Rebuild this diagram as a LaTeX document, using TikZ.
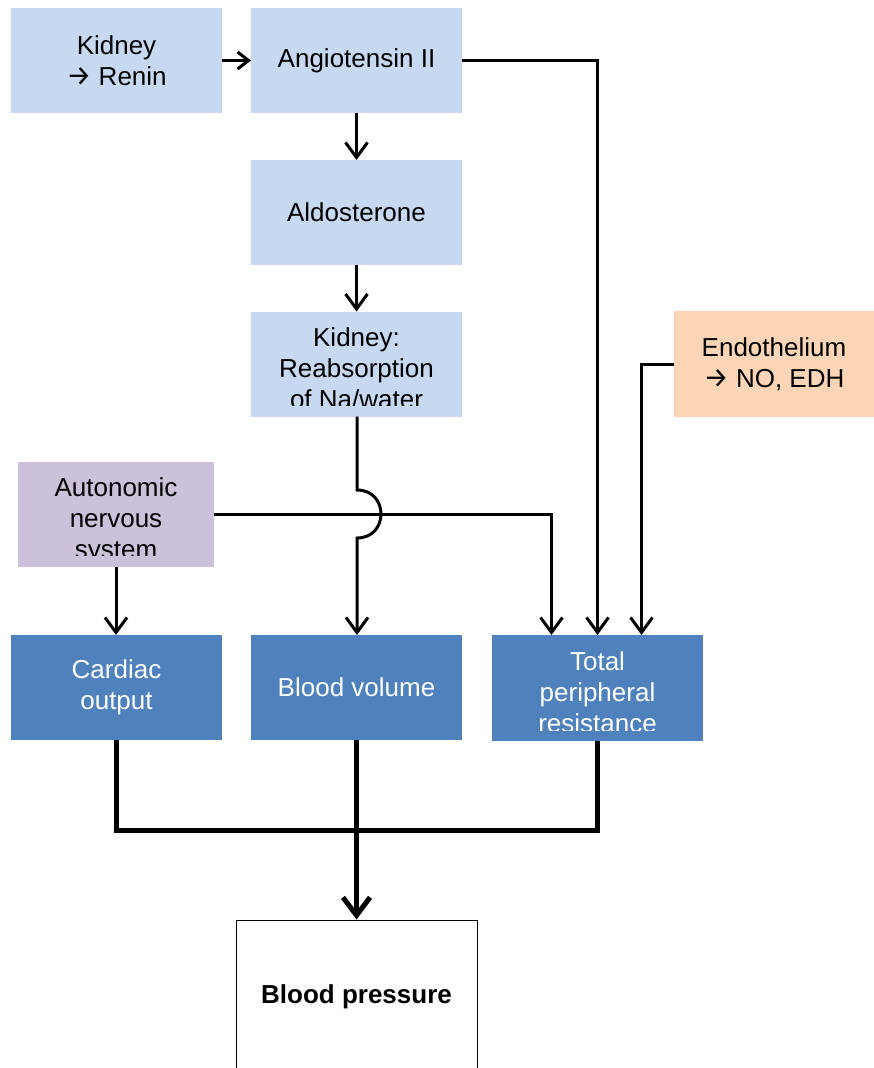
\documentclass[tikz,border=0pt]{standalone}
\usepackage{fontspec}
\setmainfont{Liberation Sans}
\newfontfamily\arrfont{Fira Sans}
\usetikzlibrary{arrows.meta}
\definecolor{lblue}{HTML}{C6D9F1}
\definecolor{dblue}{HTML}{4F81BD}
\definecolor{lpurple}{HTML}{CCC1DA}
\definecolor{lorange}{HTML}{FBD5B5}
\begin{document}
\begin{tikzpicture}[x=1pt,y=-1pt,
  box/.style={minimum width=211pt, minimum height=105pt, inner sep=0pt, outer sep=0pt, draw=none},
  lb/.style={box, fill=lblue},
  db/.style={box, fill=dblue},
  txt/.style={font=\fontsize{26}{31}\selectfont, align=center, inner sep=0pt},
  wtxt/.style={txt, text=white},
  arr/.style={line width=3pt, -{Straight Barb[length=15pt,width=22pt,line width=3pt]}},
  sarr/.style={line width=3pt, -{Straight Barb[length=11pt,width=17pt,line width=3pt]}},
  thk/.style={line width=5pt},
  thkarr/.style={line width=5pt, -{Straight Barb[length=18pt,width=27pt,line width=5pt]}}
]
\clip (0,0) rectangle (874,1068);
\fill[white] (0,0) rectangle (874,1068);

% top chain
\node[lb, txt] (kid) at (116.5,60.5) {Kidney\\{\arrfont\fontsize{28}{31}\selectfont →} Renin};
\node[lb, txt] (ang) at (356.5,60.5) {Angiotensin II};
\node[lb, txt] (ald) at (356.5,212.5) {Aldosterone};

\node[lb] (kr) at (356.5,364) {};
\begin{scope}
  \clip (kr.north west) rectangle ([yshift=11.5pt]kr.south east);
  \node[txt, yshift=-4.7pt] (krt) at (kr.center) {Kidney:\\Reabsorption\\of Na/water};
\end{scope}

\node[box, fill=lorange, minimum width=200pt, minimum height=106pt] (en) at (774,364) {};
\node[txt] (ent) at (en.center) {Endothelium\\{\arrfont\fontsize{28}{31}\selectfont →} NO, EDH};

\node[box, fill=lpurple, minimum width=196pt] (an) at (116,514.5) {};
\begin{scope}
  \clip (an.north west) rectangle ([yshift=12pt]an.south east);
  \node[txt, yshift=-6.5pt] (ant) at (an.center) {Autonomic\\nervous\\system};
\end{scope}

% middle row
\node[db, wtxt] (co) at (116.5,687.5) {Cardiac\\output};
\node[db, wtxt] (bv) at (356.5,687.5) {Blood volume};
\node[db, minimum height=106pt] (tpr) at (597.5,688) {};
\begin{scope}
  \clip (tpr.north west) rectangle ([yshift=11pt]tpr.south east);
  \node[wtxt, yshift=-4pt] (tprt) at (tpr.center) {Total\\peripheral\\resistance};
\end{scope}

% bottom
\node[draw=black, line width=1pt, fill=white, minimum width=241pt, minimum height=154pt, inner sep=0pt,
      font=\fontsize{26}{31}\selectfont\bfseries] (bp) at (356.5,997) {Blood pressure};

% connectors
\draw[sarr] (kid) -- (ang);
\draw[arr] (ang) -- (ald);
\draw[arr] (ald) -- (kr);
\draw[arr] (ang.east) -| (tpr.north);
\draw[arr] (en.west) -| ([xshift=44pt]tpr.north);
\draw[arr] (an.east) -| ([xshift=-46pt]tpr.north);
\draw[arr] (an) -- (an |- co.north);
\coordinate (hopA) at (357,490);
\coordinate (hopB) at (357,538);
\draw[arr] (kr.south -| hopA) -- (hopA) .. controls (389,490) and (389,538) .. (hopB) -- (hopB |- bv.north);

\coordinate (jl) at (116.5,830);
\coordinate (jr) at (597.5,830);
\draw[thk, line join=miter] (co.south) -- (jl) -- (jr) -- (tpr.south);
\draw[thkarr] (bv.south) -- (bp.north);
\end{tikzpicture}
\end{document}
